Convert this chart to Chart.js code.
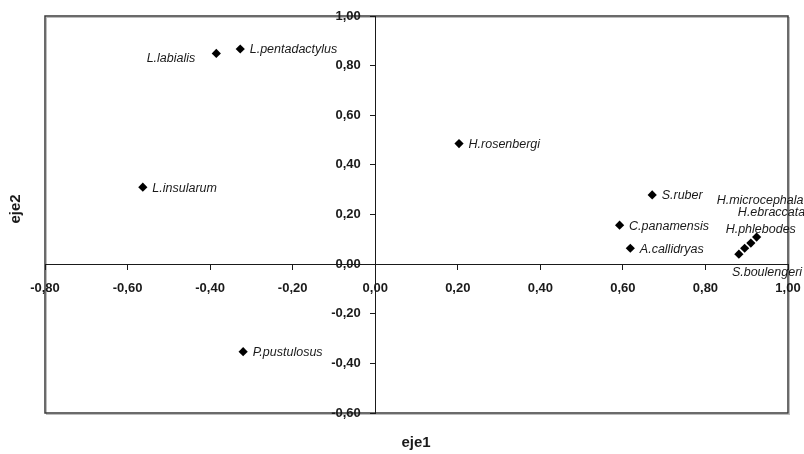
<!DOCTYPE html>
<html>
<head>
<meta charset="utf-8">
<script src="https://cdn.jsdelivr.net/npm/chart.js@4/dist/chart.umd.min.js"></script>
<style>
  html, body { margin: 0; padding: 0; background: #fff; }
  #wrap { width: 804px; height: 454px; }
</style>
</head>
<body>
<div id="wrap"><canvas id="chart" width="804" height="454"></canvas></div>
<script>
// Especies y coordenadas en los dos ejes
var species = ["L.labialis", "L.pentadactylus", "L.insularum", "H.rosenbergi", "P.pustulosus",
  "S.ruber", "C.panamensis", "A.callidryas", "H.microcephala", "H.ebraccata", "H.phlebodes", "S.boulengeri"];
var eje1 = [-0.385, -0.327, -0.563, 0.203, -0.320, 0.671, 0.592, 0.618, 0.924, 0.910, 0.895, 0.881];
var eje2 = [0.849, 0.867, 0.310, 0.486, -0.353, 0.279, 0.157, 0.064, 0.109, 0.085, 0.064, 0.040];

var X_MIN = -0.8, X_MAX = 1.0, Y_MIN = -0.6, Y_MAX = 1.0, STEP = 0.2;

var TICK_FONT = { family: "'Liberation Sans Narrow', 'Liberation Sans', Arial, sans-serif", size: 13, weight: "bold" };
var INK = "#1a1a1a";

// posición de cada etiqueta respecto a su punto: [dx, dy, alineación]
var LABEL_POS = {
  "L.labialis": [-21, 5, "right"],
  "H.microcephala": [-40, -37, "left"],
  "H.ebraccata": [-13, -31, "left"],
  "H.phlebodes": [-19, -19, "left"],
  "S.boulengeri": [-7, 18, "left"]
};

function fmt(v) { return (Math.round(v * 100) / 100).toFixed(2).replace(".", ","); }

var points = species.map(function (s, i) { return { x: eje1[i], y: eje2[i] }; });

// marco exterior del gráfico
var framePlugin = {
  id: "frame",
  beforeDraw: function (chart) {
    var a = chart.chartArea, ctx = chart.ctx;
    ctx.save();
    ctx.strokeStyle = "#bdbdbd";
    ctx.lineWidth = 1;
    ctx.strokeRect(a.left + 1.5, a.top + 1.5, a.right - a.left, a.bottom - a.top);
    ctx.strokeStyle = "#3a3a3a";
    ctx.lineWidth = 1.5;
    ctx.strokeRect(a.left, a.top, a.right - a.left, a.bottom - a.top);
    ctx.restore();
  }
};

// nombres de especies y títulos de los ejes
var labelPlugin = {
  id: "names",
  afterDatasetsDraw: function (chart) {
    var ctx = chart.ctx, meta = chart.getDatasetMeta(0);
    ctx.save();
    ctx.fillStyle = INK;
    ctx.font = "italic 12.5px 'Liberation Sans', Arial, sans-serif";
    ctx.textBaseline = "middle";
    meta.data.forEach(function (el, i) {
      var p = LABEL_POS[species[i]] || [9.5, 1, "left"];
      ctx.textAlign = p[2];
      ctx.fillText(species[i], el.x + p[0], el.y + p[1]);
    });
    ctx.font = "bold 15px 'Liberation Sans', Arial, sans-serif";
    ctx.textAlign = "center";
    ctx.fillText("eje1", 416, 443);
    ctx.translate(15.5, 209);
    ctx.rotate(-Math.PI / 2);
    ctx.fillText("eje2", 0, 0);
    ctx.restore();
  }
};

new Chart(document.getElementById("chart"), {
  type: "scatter",
  data: {
    datasets: [{
      data: points,
      pointStyle: "rectRot",
      pointRadius: 4.6,
      backgroundColor: "#000",
      borderWidth: 0,
      clip: false
    }]
  },
  options: {
    responsive: false,
    animation: false,
    layout: { padding: { left: 45, right: 16, top: 16, bottom: 41 } },
    plugins: { legend: { display: false }, tooltip: { enabled: false } },
    scales: {
      x: {
        type: "linear",
        position: { y: 0 },
        min: X_MIN, max: X_MAX,
        afterFit: function (s) { s.height = 0; s.paddingLeft = 0; s.paddingRight = 0; },
        border: { display: true, color: INK, width: 1 },
        grid: { drawOnChartArea: false, drawTicks: true, tickLength: 5, color: INK },
        ticks: { stepSize: STEP, font: TICK_FONT, color: INK, padding: 11, maxRotation: 0, autoSkip: false, callback: fmt }
      },
      y: {
        type: "linear",
        position: { x: 0 },
        min: Y_MIN, max: Y_MAX,
        afterFit: function (s) { s.width = 0; s.paddingTop = 0; s.paddingBottom = 0; },
        border: { display: true, color: INK, width: 1 },
        grid: { drawOnChartArea: false, drawTicks: true, tickLength: 5, color: INK },
        // con posición dinámica Chart.js no aplica el padding: se aparta con espacios
        ticks: { stepSize: STEP, font: TICK_FONT, color: INK, autoSkip: false,
          callback: function (v) { return fmt(v) + "    "; } }
      }
    }
  },
  plugins: [framePlugin, labelPlugin]
});
</script>
</body>
</html>
